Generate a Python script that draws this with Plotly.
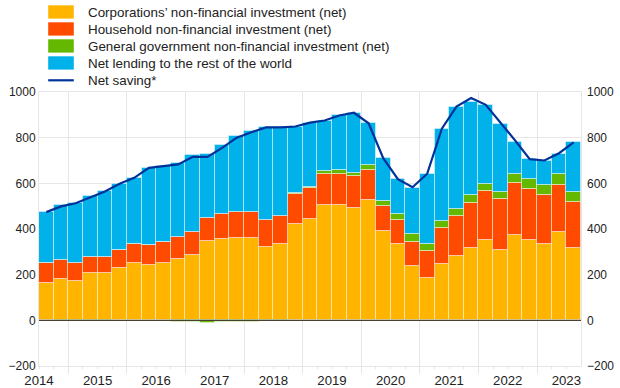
import plotly.graph_objects as go

years = [str(y) for y in range(2014, 2024)]
quarters = [f"{2014 + i // 4}Q{i % 4 + 1}" for i in range(37)]

corporations = [165, 179, 174, 206, 207, 229, 249, 241, 249, 267, 286, 346, 356, 362, 359, 322, 334, 421,
                446, 503, 506, 494, 525, 391, 333, 236, 185, 245, 280, 319, 354, 306, 375, 353, 333, 385, 315]
households = [84, 85, 77, 73, 72, 79, 84, 89, 95, 98, 102, 104, 109, 114, 117, 119, 124, 133,
              135, 136, 136, 136, 134, 110, 105, 107, 118, 159, 175, 194, 212, 225, 227, 223, 217, 209, 203]
government = [0, -5, -5, -5, -3, 0, 0, 0, 0, -7, -9, -10, -9, -9, -8, -3, -2, 2,
              5, 13, 16, 16, 21, 22, 29, 33, 33, 32, 34, 34, 32, 32, 38, 42, 44, 46, 45]
net_lending = [225, 239, 265, 265, 287, 290, 291, 337, 333, 326, 334, 277, 304, 332, 354, 406, 389, 291,
               277, 223, 242, 260, 183, 186, 151, 205, 306, 403, 447, 410, 343, 295, 142, 87, 106, 89, 217]
net_saving = [474, 499, 513, 540, 564, 598, 624, 668, 675, 683, 716, 716, 755, 800, 824, 845, 845, 849,
              866, 875, 897, 909, 863, 710, 618, 583, 642, 839, 936, 974, 944, 868, 788, 706, 700, 732, 779]

names = ["Corporations\u2019 non-financial investment (net)",
         "Household non-financial investment (net)",
         "General government non-financial investment (net)",
         "Net lending to the rest of the world",
         "Net saving*"]
colors = ["#FFB400", "#FF4B00", "#65B800", "#00B1EA", "#003299"]

xpos = [i + 0.5 for i in range(len(quarters))]

fig = go.Figure()
for vals, name, col in zip([corporations, households, government, net_lending], names[:4], colors[:4]):
    fig.add_trace(go.Bar(x=xpos, y=vals, name=name, width=1,
                         marker=dict(color=col, line=dict(color="rgba(255,255,255,0.45)", width=1)),
                         showlegend=False, hovertext=quarters))
fig.add_trace(go.Scatter(x=xpos, y=net_saving, name=names[4], mode="lines",
                         line=dict(color=colors[4], width=2.2), showlegend=False))
fig.add_trace(go.Scatter(x=[xpos[0]], y=[net_saving[0]], yaxis="y2", mode="markers",
                         marker=dict(opacity=0), showlegend=False, hoverinfo="skip"))

# plot area geometry (pixels)
L, R, T, B = 38.5, 580.7, 91.7, 365.7
W, H = 620, 388
pw, ph = R - L, B - T


def px(x):
    return (x - L) / pw


def py(y):
    return (B - y) / ph


font = "Liberation Sans, Arial, sans-serif"
txtc = "#222222"
grid = "#e6e6e6"

shapes = []
annotations = []
for k in range(4):
    shapes.append(dict(type="rect", xref="paper", yref="paper",
                       x0=px(47.7), x1=px(73.3), y0=py(18.3 + 17 * k), y1=py(5 + 17 * k),
                       fillcolor=colors[k], line=dict(width=0)))
shapes.append(dict(type="line", xref="paper", yref="paper",
                   x0=px(47.7), x1=px(73.3), y0=py(80), y1=py(80),
                   line=dict(color=colors[4], width=2.2)))
# zero line drawn above the bars
shapes.append(dict(type="line", xref="paper", yref="y", x0=0, x1=1, y0=0, y1=0,
                   line=dict(color="#4a4030", width=1.3), layer="above"))
for k in range(5):
    annotations.append(dict(xref="paper", yref="paper", x=px(86), y=py(12 + 17 * k),
                            text=names[k], showarrow=False, xanchor="left", yanchor="middle",
                            font=dict(size=13.4, color=txtc, family=font)))

yticks = list(range(-200, 1001, 200))

fig.update_layout(
    width=W, height=H,
    margin=dict(l=L, r=W - R, t=T, b=H - B, autoexpand=False),
    paper_bgcolor="white", plot_bgcolor="white",
    barmode="relative", bargap=0,
    font=dict(family=font, size=12, color=txtc),
    shapes=shapes, annotations=annotations,
    xaxis=dict(range=[0, len(quarters)], automargin=False,
               tickmode="array", tickvals=list(range(len(quarters))),
               ticktext=[years[i // 4] if i % 4 == 0 else "" for i in range(len(quarters))],
               ticks="outside", ticklen=2, tickcolor=grid, tickwidth=1,
               showgrid=False, zeroline=False,
               showline=True, mirror=True, linecolor=grid, linewidth=1,
               tickfont=dict(size=13.2, color=txtc),
               minor=dict(tickmode="array", tickvals=[4 * i + 2 for i in range(len(years) - 1)],
                          showgrid=True, gridcolor=grid, gridwidth=1,
                          ticks="outside", ticklen=7, tickcolor=grid)),
    yaxis=dict(range=[-200, 1000], tickmode="array", tickvals=yticks, automargin=False,
               showgrid=True, gridcolor=grid, gridwidth=1,
               zeroline=False,
               showline=True, mirror=True, linecolor=grid, linewidth=1,
               ticks="", tickfont=dict(size=12, color=txtc)),
    yaxis2=dict(range=[-200, 1000], tickmode="array", tickvals=yticks, overlaying="y", side="right",
                automargin=False,
                showgrid=False, zeroline=False, showline=False, ticks="",
                ticklabelstandoff=5, tickfont=dict(size=12, color=txtc)),
)

fig.write_html("out.html", config={"displayModeBar": False},
               post_script="document.body.style.margin='0';")
